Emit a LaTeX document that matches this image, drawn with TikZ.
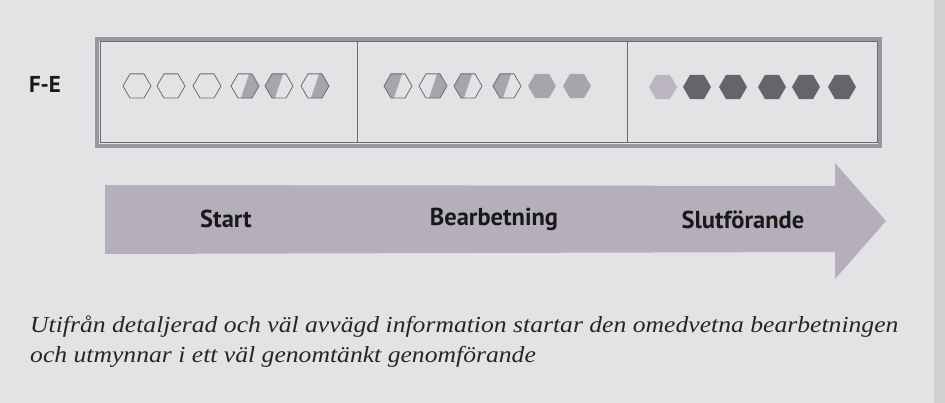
\documentclass[tikz,border=0pt]{standalone}
\usepackage{fontspec}
\setmainfont{Liberation Serif}
\newfontfamily\labelfont{PT Sans}
\begin{document}
\definecolor{bg}{HTML}{E3E3E5}
\definecolor{framegray}{HTML}{9A96A0}
\definecolor{linegray}{HTML}{6E6A72}
\definecolor{arrowgray}{HTML}{B4AFBA}
\definecolor{hexmid}{HTML}{A8A4AE}
\definecolor{hexlight}{HTML}{BAB5BE}
\definecolor{hexdark}{HTML}{67636B}
\newcommand\hexpath[2]{(#1-14,#2) -- (#1-7,#2-12.1) -- (#1+7,#2-12.1) -- (#1+14,#2) -- (#1+7,#2+12.1) -- (#1-7,#2+12.1) -- cycle}
% empty outline
\newcommand\hexE[2]{\draw[hexline] \hexpath{#1}{#2};}
% right half filled
\newcommand\hexR[2]{\begin{scope}\clip \hexpath{#1}{#2};\fill[hexmid] (#1+6.7,#2-20) -- (#1+20,#2-20) -- (#1+20,#2+20) -- (#1-6.7,#2+20) -- cycle;\end{scope}\draw[hexline] \hexpath{#1}{#2};}
% left half filled
\newcommand\hexL[2]{\begin{scope}\clip \hexpath{#1}{#2};\fill[hexmid] (#1+6.7,#2-20) -- (#1-20,#2-20) -- (#1-20,#2+20) -- (#1-6.7,#2+20) -- cycle;\end{scope}\draw[hexline] \hexpath{#1}{#2};}
% full
\newcommand\hexF[3]{\fill[#3] \hexpath{#1}{#2};}
\begin{tikzpicture}[x=1pt,y=-1pt,
  hexline/.style={draw=linegray,line width=0.8pt,line join=round},
  lab/.style={font=\labelfont\bfseries\fontsize{24.5}{28}\selectfont,text=black!90},
  captxt/.style={font=\itshape\fontsize{23}{27}\selectfont,text=black!85,anchor=west,inner sep=0pt}]
\useasboundingbox (0,0) rectangle (945,403);
\fill[bg] (0,0) rectangle (945,403);
\fill[bg!92!black] (934,0) rectangle (945,403);
% frame
\draw[framegray,line width=4pt] (97,39) rectangle (880,146);
\draw[linegray,line width=1pt] (100,42) rectangle (357,143);
\draw[linegray,line width=1pt] (357,42) rectangle (627,143);
\draw[linegray,line width=1pt] (627,42) rectangle (877,143);
\node[lab,font=\labelfont\bfseries\fontsize{23}{26}\selectfont] (fe) at (45,84) {F-E};
% box 1
\hexE{137}{86}
\hexE{171}{86}
\hexE{207}{86}
\hexR{245}{86}
\hexL{279}{86}
\hexR{315}{86}
% box 2
\hexL{398}{86}
\hexR{433}{86}
\hexL{468}{86}
\hexL{507}{86}
\hexF{542}{86}{hexmid}
\hexF{577}{86}{hexmid}
% box 3
\hexF{663}{87}{hexlight}
\hexF{697}{87}{hexdark}
\hexF{733}{87}{hexdark}
\hexF{772}{87}{hexdark}
\hexF{806}{87}{hexdark}
\hexF{842}{87}{hexdark}
% arrow
\fill[arrowgray] (105,185) -- (835,186) -- (835,163) -- (886,221) -- (835,279) -- (835,252) -- (105,254) -- cycle;
\node[lab] (start) at (226,219) {Start};
\node[lab] (bearb) at (494,219) {Bearbetning};
\node[lab] (slut) at (743,220) {Slutförande};
% caption
\node[captxt] (cap1) at (30,327) {\scalebox{1.115}[1]{Utifrån detaljerad och väl avvägd information startar den omedvetna bearbetningen}};
\node[captxt] (cap2) at (30,357) {\scalebox{1.115}[1]{och utmynnar i ett väl genomtänkt genomförande}};
\end{tikzpicture}
\end{document}
